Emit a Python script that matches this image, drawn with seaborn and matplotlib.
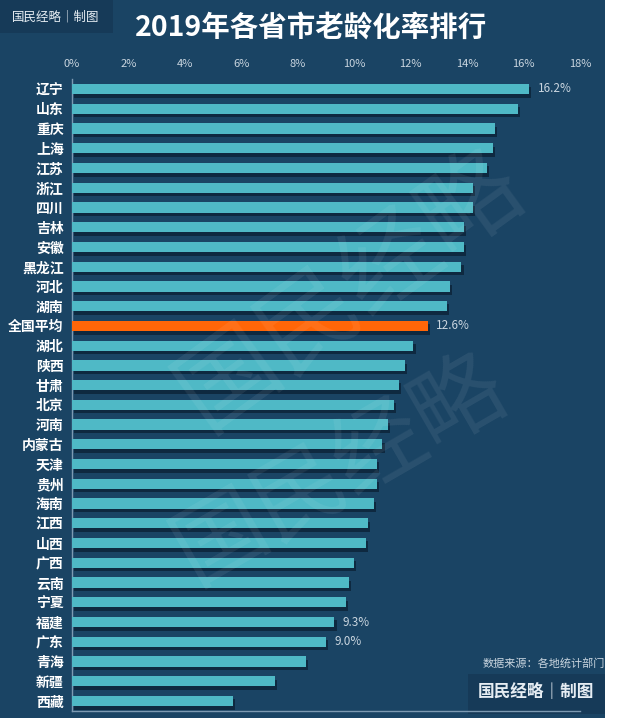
"""
2019年各省市老龄化率排行 -- horizontal bar chart on a dark navy card.
"""

import matplotlib
matplotlib.use("Agg")
import matplotlib.patheffects as pe
import matplotlib.pyplot as plt
from matplotlib.patches import Rectangle
from matplotlib.ticker import FuncFormatter
import seaborn as sns

# ==============================================================================
# DATA
# ==============================================================================

regions = [
    "辽宁", "山东", "重庆", "上海", "江苏", "浙江", "四川", "吉林", "安徽", "黑龙江",
    "河北", "湖南", "全国平均", "湖北", "陕西", "甘肃", "北京", "河南", "内蒙古", "天津",
    "贵州", "海南", "江西", "山西", "广西", "云南", "宁夏", "福建", "广东", "青海",
    "新疆", "西藏",
]
aging_rate = [
    16.2, 15.8, 15.0, 14.9, 14.7, 14.2, 14.2, 13.9, 13.9, 13.8,
    13.4, 13.3, 12.6, 12.1, 11.8, 11.6, 11.4, 11.2, 11.0, 10.8,
    10.8, 10.7, 10.5, 10.4, 10.0, 9.8, 9.7, 9.3, 9.0, 8.3,
    7.2, 5.7,
]
labelled = {"辽宁": "16.2%", "全国平均": "12.6%", "福建": "9.3%", "广东": "9.0%"}
x_ticks = [0, 2, 4, 6, 8, 10, 12, 14, 16, 18]

# ==============================================================================
# STYLE
# ==============================================================================

BG = "#1a4464"
BOX = "#163a58"
BAR = "#4fb9c6"
HIGHLIGHT = "#ff6608"
TICK = "#c9d5df"
AXIS_LINE = "#7d9ab2"

sns.set_theme(style="white")
plt.rcParams["font.family"] = ["Noto Sans CJK SC", "DejaVu Sans"]

W, H = 640, 724
fig = plt.figure(figsize=(W / 100, H / 100), dpi=100, facecolor="white")

# dark card behind everything (white strip on the right and bottom)
fig.patches.append(Rectangle((0, 6 / H), 605 / W, 1 - 6 / H, transform=fig.transFigure,
                             facecolor=BG, edgecolor="none", zorder=-3))
# top-left logo box
fig.patches.append(Rectangle((0, 1 - 33 / H), 113 / W, 33 / H, transform=fig.transFigure,
                             facecolor=BOX, edgecolor="none", zorder=-2))
# bottom-right logo box
fig.patches.append(Rectangle((468 / W, 1 - 714 / H), 137 / W, 40 / H, transform=fig.transFigure,
                             facecolor=BOX, edgecolor="none", zorder=-2))

top_px, bottom_px = 79.1, 710.9
ax = fig.add_axes([72 / W, 1 - bottom_px / H, (580 - 72) / W, (bottom_px - top_px) / H])
ax.set_facecolor("none")

colors = [HIGHLIGHT if r == "全国平均" else BAR for r in regions]
sns.barplot(x=aging_rate, y=regions, hue=regions, palette=colors, legend=False,
            orient="h", width=0.52, saturation=1, ax=ax, zorder=3)

for bar in ax.patches:
    bar.set_path_effects([
        pe.SimplePatchShadow(offset=(1.5, -2.5), shadow_rgbFace="#0b2338", alpha=0.8),
        pe.Normal(),
    ])
    bar.set_linewidth(0)

# value labels on selected bars
for container in ax.containers:
    for bar in container:
        idx = int(round(bar.get_y() + bar.get_height() / 2))
        name = regions[idx]
        if name in labelled:
            ax.text(bar.get_width() + 0.3, idx, labelled[name], va="center", ha="left",
                    color=TICK, fontsize=8.5, zorder=4)

ax.set_xlim(0, 18)
ax.set_ylim(len(regions) - 0.5, -0.5)
ax.set_xticks(x_ticks)
ax.xaxis.set_major_formatter(FuncFormatter(lambda v, _: f"{v:.0f}%"))
ax.xaxis.tick_top()
ax.tick_params(axis="x", colors=TICK, labelsize=8, length=0, pad=7)
ax.tick_params(axis="y", colors="white", labelsize=10, length=0, pad=6)
for lbl in ax.get_yticklabels():
    lbl.set_fontweight("bold")
ax.set_xlabel("")
ax.set_ylabel("")

for side in ["top", "right"]:
    ax.spines[side].set_visible(False)
for side in ["left", "bottom"]:
    ax.spines[side].set_color(AXIS_LINE)
    ax.spines[side].set_linewidth(1.0)

# ==============================================================================
# TEXT
# ==============================================================================

fig.text(311 / W, 1 - 28 / H, "2019年各省市老龄化率排行", ha="center", va="center",
         color="white", fontsize=20.5, fontweight="bold")
fig.text(56 / W, 1 - 17 / H, "国民经略｜制图", ha="center", va="center",
         color="#e6edf3", fontsize=9)
fig.text(605 / W, 1 - 663 / H, "数据来源：各地统计部门", ha="right", va="center",
         color=TICK, fontsize=8)
fig.text(536 / W, 1 - 692 / H, "国民经略｜制图", ha="center", va="center",
         color="#e6edf3", fontsize=12, fontweight="bold")

# diagonal watermarks
fig.text(350 / W, 1 - 290 / H, "国民经略", ha="center", va="center", rotation=36,
         color="white", alpha=0.07, fontsize=72, zorder=1)
fig.text(340 / W, 1 - 470 / H, "国民经略", ha="center", va="center", rotation=30,
         color="white", alpha=0.07, fontsize=66, zorder=1)

fig.savefig("out.png", dpi=100, facecolor="white")
